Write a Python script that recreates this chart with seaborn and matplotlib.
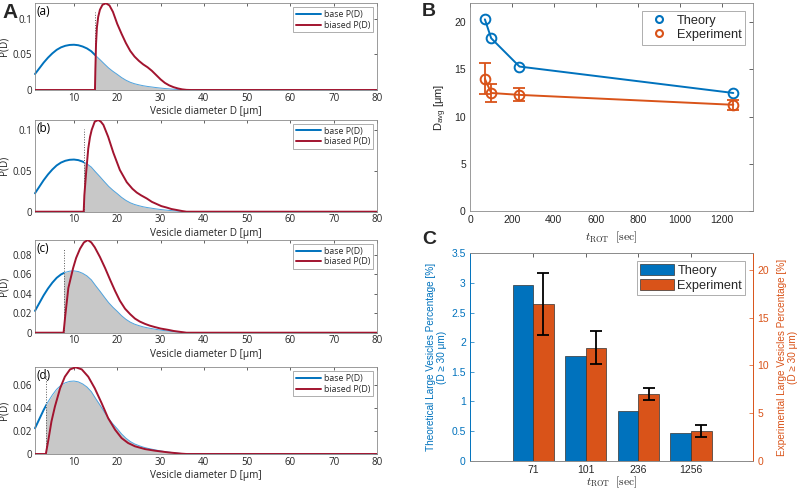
import numpy as np
import pandas as pd
import matplotlib
matplotlib.use('Agg')
import matplotlib.pyplot as plt
import seaborn as sns
from matplotlib.lines import Line2D
from matplotlib.patches import Patch, Rectangle

# ---------------- Panel A data ----------------
D_base = list(range(1, 37)) + [80]
P_base = [0.0225, 0.0305, 0.0385, 0.0455, 0.0515, 0.0565, 0.0600, 0.0622, 0.0634, 0.0637,
          0.0630, 0.0612, 0.0585, 0.0545, 0.0485, 0.0428, 0.0368, 0.0310, 0.0262, 0.0220,
          0.0175, 0.0138, 0.0109, 0.0088, 0.0073, 0.0060, 0.0050, 0.0042, 0.0034, 0.0027,
          0.0021, 0.0016, 0.0011, 0.0007, 0.0004, 0.0001, 0.0]

cuts = [14.9, 12.3, 7.6, 3.5]
panel_tags = ['(a)', '(b)', '(c)', '(d)']

D_bias_a = [1, 14.85, 14.95, 15.1, 15.3, 15.6, 16.0, 16.6, 17.4, 18.2, 19, 20, 21, 22, 23, 24,
            25, 26, 27, 28, 29, 30, 31, 32, 33, 34, 35, 36, 37, 80]
P_bias_a = [0, 0, 0.030, 0.065, 0.088, 0.103, 0.113, 0.120, 0.122, 0.119, 0.110, 0.093, 0.079,
            0.066, 0.055, 0.047, 0.041, 0.036, 0.032, 0.027, 0.021, 0.015, 0.010, 0.0065,
            0.0040, 0.0022, 0.0009, 0.0002, 0, 0]

D_bias_b = [1, 12.25, 12.4, 12.8, 13.3, 13.7, 14.1, 14.8, 15.6, 16.2, 16.8, 17.9, 19.1, 20.6,
            22.2, 23.5, 24.5, 25.5, 26.8, 28, 29.1, 30.2, 31.4, 32.5, 33.7, 35, 36, 80]
P_bias_b = [0, 0, 0.020, 0.047, 0.077, 0.091, 0.100, 0.110, 0.112, 0.110, 0.106, 0.0915, 0.072,
            0.051, 0.036, 0.028, 0.0234, 0.020, 0.0162, 0.012, 0.0094, 0.0068, 0.0051, 0.0033,
            0.0021, 0.0008, 0, 0]

D_bias_c = [1, 7.6, 8.0, 8.7, 9.8, 10.5, 11.4, 12.3, 13.2, 14, 14.8, 16, 17.2, 18.4, 19.5, 20.6,
            21.8, 23, 24.1, 25.2, 26.4, 27.5, 28.7, 30, 31.8, 33, 34.8, 36, 80]
P_bias_c = [0, 0, 0.018, 0.046, 0.0665, 0.077, 0.0865, 0.093, 0.0955, 0.093, 0.088, 0.078,
            0.0665, 0.054, 0.043, 0.033, 0.0247, 0.019, 0.0145, 0.0115, 0.0091, 0.0073, 0.0058,
            0.0043, 0.0029, 0.0018, 0.0007, 0, 0]

D_bias_d = [1, 3.5, 4.1, 4.8, 5.6, 6.8, 7.9, 9.1, 10.4, 11.8, 13.3, 14.8, 16.4, 17.9, 19.5, 21,
            22.5, 24.1, 26.4, 28.7, 31.8, 34.8, 36, 80]
P_bias_d = [0, 0, 0.0125, 0.0284, 0.0414, 0.0574, 0.0675, 0.0739, 0.0757, 0.0739, 0.0675,
            0.0574, 0.0443, 0.0313, 0.0212, 0.0139, 0.0096, 0.0067, 0.0043, 0.0029, 0.0014,
            0.0003, 0, 0]

A_yticks = [[0, 0.05, 0.1], [0, 0.05, 0.1], [0, 0.02, 0.04, 0.06, 0.08], [0, 0.02, 0.04, 0.06]]
A_xticks = [10, 20, 30, 40, 50, 60, 70, 80]

# ---------------- Panel B data ----------------
t_rot = [71, 101, 236, 1256]
davg_theory = [20.3, 18.3, 15.3, 12.5]
davg_exp = [14.0, 12.5, 12.3, 11.25]
davg_exp_err = [1.65, 0.95, 0.7, 0.55]

# ---------------- Panel C data ----------------
t_labels = ['71', '101', '236', '1256']
large_theory = [2.96, 1.76, 0.84, 0.47]
large_exp = [16.43, 11.85, 7.0, 3.1]
large_exp_err = [3.23, 1.75, 0.66, 0.65]

BLUE = '#0072BD'
ORANGE = '#D95319'
RED = '#A2142F'
GREY_FILL = '#C8C8C8'
FRAME = '#8a8a8a'
TXT = '#262626'

sns.set_style('white')
plt.rcParams['font.family'] = ['Open Sans', 'DejaVu Sans']
plt.rcParams['axes.linewidth'] = 0.6

fig = plt.figure(figsize=(8, 4.91), dpi=100)
W, H = 800, 491


def rect(l, t, r, b):
    return [l / W, 1 - b / H, (r - l) / W, (b - t) / H]


A_boxes = [(3.3, 90), (120, 211.7), (240, 332.7), (367.3, 454)]
biased = [(D_bias_a, P_bias_a), (D_bias_b, P_bias_b), (D_bias_c, P_bias_c), (D_bias_d, P_bias_d)]

for i in range(4):
    t, b = A_boxes[i]
    ax = fig.add_axes(rect(35, t, 377, b))
    Db, Pb = biased[i]
    cut = cuts[i]
    ymax = max(Pb)
    poly = ax.fill_between(D_base, 0, P_base, color=GREY_FILL, lw=0, zorder=1)
    poly.set_clip_path(Rectangle((cut, -1), 100, 3, transform=ax.transData))
    sns.lineplot(x=D_base, y=P_base, ax=ax, color=BLUE, lw=1.4, sort=False, estimator=None, zorder=2)
    ax.lines[-1].set_clip_path(Rectangle((0, -1), cut, 3, transform=ax.transData))
    sns.lineplot(x=D_base, y=P_base, ax=ax, color='#4FA3DE', lw=0.7, sort=False, estimator=None, zorder=2)
    ax.lines[-1].set_clip_path(Rectangle((cut, -1), 100, 3, transform=ax.transData))
    sns.lineplot(x=Db, y=Pb, ax=ax, color=RED, lw=1.4, sort=False, estimator=None, zorder=3)
    ax.plot([cut, cut], [0, 0.9 * ymax], ls=':', color='#555555', lw=0.7, zorder=2)
    ax.set_xlim(1, 80)
    ax.set_ylim(0, ymax)
    ax.set_xticks(A_xticks)
    ax.set_yticks(A_yticks[i])
    ax.set_yticklabels([f'{v:g}' for v in A_yticks[i]])
    ax.tick_params(direction='in', length=2.5, width=0.5, top=True, right=True,
                   labelsize=7, pad=2, colors=TXT)
    for s in ax.spines.values():
        s.set_color(FRAME)
        s.set_linewidth(0.6)
    ax.set_xlabel('Vesicle diameter D [μm]', fontsize=7.2, labelpad=1.5, color=TXT)
    ax.set_ylabel('P(D)', fontsize=7.2, labelpad=2, color=TXT)
    ax.text(0.003, 0.975, panel_tags[i], transform=ax.transAxes, va='top', ha='left',
            fontsize=8.5, color='k')
    handles = [Line2D([], [], color=BLUE, lw=1.4), Line2D([], [], color=RED, lw=1.4)]
    leg = ax.legend(handles, ['base P(D)', 'biased P(D)'], loc='upper right', fontsize=6.3,
                    frameon=True, fancybox=False, edgecolor=FRAME, borderpad=0.3,
                    handlelength=2.8, labelspacing=0.2, borderaxespad=0.45, handletextpad=0.4)
    leg.get_frame().set_linewidth(0.6)

SANS = ['Liberation Sans', 'DejaVu Sans']

# ---------------- Panel B ----------------
axB = fig.add_axes(rect(470, 3.3, 753, 211))
sns.lineplot(x=t_rot, y=davg_theory, ax=axB, color=BLUE, lw=1.4, marker='o', ms=7,
             mfc='none', mec=BLUE, mew=1.4, estimator=None, sort=False, zorder=3)
sns.lineplot(x=t_rot, y=davg_exp, ax=axB, color=ORANGE, lw=1.4, marker='o', ms=7,
             mfc='none', mec=ORANGE, mew=1.4, estimator=None, sort=False, zorder=3)
axB.errorbar(t_rot, davg_exp, yerr=davg_exp_err, fmt='none', ecolor=ORANGE,
             elinewidth=1.3, capsize=4, capthick=1.3, zorder=3)
axB.set_xlim(0, 1350)
axB.set_ylim(0, 22)
axB.set_xticks([0, 200, 400, 600, 800, 1000, 1200])
axB.set_yticks([0, 5, 10, 15, 20])
axB.tick_params(direction='in', length=3, width=0.5, top=True, right=True,
                labelsize=7.5, pad=3, colors=TXT)
for lab in axB.get_xticklabels() + axB.get_yticklabels():
    lab.set_fontfamily(SANS)
for s in axB.spines.values():
    s.set_color(FRAME)
    s.set_linewidth(0.6)
axB.set_ylabel(r'D$_\mathregular{avg}$ [μm]', fontsize=8, family=SANS, color=TXT, labelpad=4)
axB.set_xlabel(r'$t_{\mathrm{ROT}}\ \ [\mathrm{sec}]$', fontsize=8.5, math_fontfamily='cm',
               color=TXT, labelpad=3)
hB = [Line2D([], [], ls='none', marker='o', mfc='none', mec=BLUE, mew=1.5, ms=5),
      Line2D([], [], ls='none', marker='o', mfc='none', mec=ORANGE, mew=1.5, ms=5)]
legB = axB.legend(hB, ['Theory', 'Experiment'], loc='upper right', prop={'family': SANS, 'size': 9.2},
                  frameon=True, fancybox=False, edgecolor=FRAME, borderpad=0.3,
                  handlelength=2.0, labelspacing=0.15, borderaxespad=0.6, handletextpad=0.4)
legB.get_frame().set_linewidth(0.6)

# ---------------- Panel C ----------------
pos = np.arange(1, 5)
bw = 0.392
axC = fig.add_axes(rect(470, 253.3, 753, 460.7))
axC.bar(pos - bw / 2, large_theory, width=bw, color=BLUE, edgecolor='#333333', lw=0.5, zorder=2)
axR = axC.twinx()
axR.bar(pos + bw / 2, large_exp, width=bw, color=ORANGE, edgecolor='#333333', lw=0.5, zorder=2)
axR.errorbar(pos + bw / 2, large_exp, yerr=large_exp_err, fmt='none', ecolor='k',
             elinewidth=1.3, capsize=4, capthick=1.3, zorder=3)
axC.set_xlim(-0.2, 5.18)
axC.set_ylim(0, 3.5)
axR.set_ylim(0, 21.75)
axC.set_xticks(pos)
axC.set_xticklabels(t_labels)
ytC = [0, 0.5, 1, 1.5, 2, 2.5, 3, 3.5]
axC.set_yticks(ytC)
axC.set_yticklabels([f'{v:g}' for v in ytC])
axR.set_yticks([0, 5, 10, 15, 20])
axC.tick_params(axis='x', direction='in', length=3, width=0.5, top=True, labelsize=7.5,
                pad=3, colors=TXT)
axC.tick_params(axis='y', direction='in', length=3, width=0.5, labelsize=7.5, pad=3,
                colors=BLUE)
axR.tick_params(axis='y', direction='in', length=3, width=0.5, labelsize=7.5, pad=3,
                colors=ORANGE)
for lab in axC.get_xticklabels() + axC.get_yticklabels() + axR.get_yticklabels():
    lab.set_fontfamily(SANS)
for a in (axC, axR):
    for k, s in a.spines.items():
        s.set_linewidth(0.6)
        s.set_color(FRAME)
    a.spines['left'].set_color(BLUE)
    a.spines['right'].set_color(ORANGE)
axC.set_ylabel('Theoretical Large Vesicles Percentage [%]\n(D ≥ 30 μm)', fontsize=7.2,
               family=SANS, color=BLUE, labelpad=3, linespacing=1.1)
axR.set_ylabel('Experimental Large Vesicles Percentage [%]\n(D ≥ 30 μm)', fontsize=7.2,
               family=SANS, color=ORANGE, labelpad=6, linespacing=1.1)
axC.set_xlabel(r'$t_{\mathrm{ROT}}\ \ [\mathrm{sec}]$', fontsize=8.3, math_fontfamily='cm',
               color=TXT, labelpad=0)
hC = [Patch(facecolor=BLUE, edgecolor='#333333', lw=0.5),
      Patch(facecolor=ORANGE, edgecolor='#333333', lw=0.5)]
legC = axR.legend(hC, ['Theory', 'Experiment'], loc='upper right', prop={'family': SANS, 'size': 9.2},
                  frameon=True, fancybox=False, edgecolor=FRAME, borderpad=0.25,
                  handlelength=2.6, handleheight=0.95, labelspacing=0.15, borderaxespad=0.6,
                  handletextpad=0.3)
legC.get_frame().set_linewidth(0.6)

# Panel letters
fig.text(2 / W, 1 - 12.5 / H, 'A', fontsize=15, fontweight='bold', va='center', ha='left',
         family=SANS)
fig.text(422 / W, 1 - 11 / H, 'B', fontsize=14, fontweight='bold', va='center', ha='left',
         family=SANS)
fig.text(422 / W, 1 - 240 / H, 'C', fontsize=14, fontweight='bold', va='center', ha='left',
         family=SANS)

fig.savefig('out.png', dpi=100)
